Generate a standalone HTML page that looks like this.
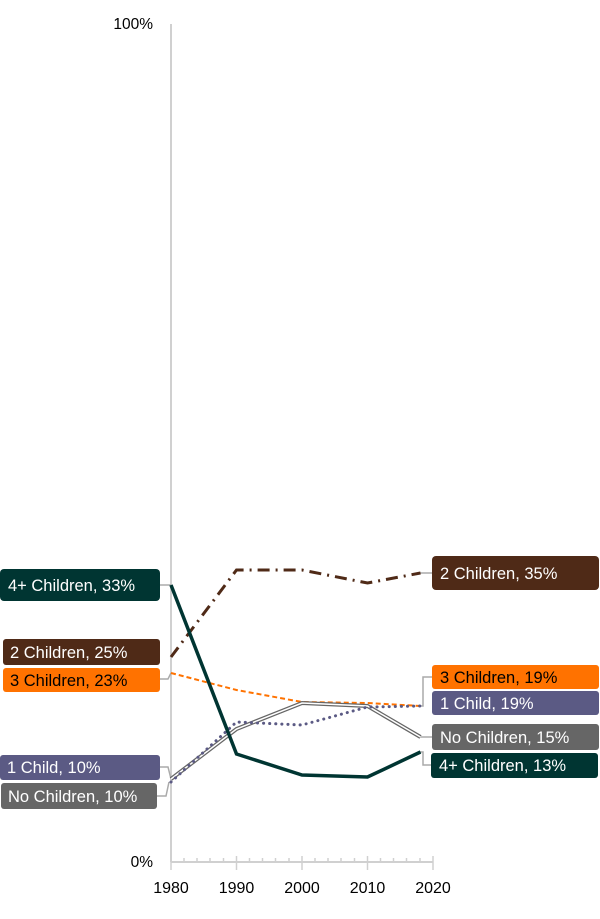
<!DOCTYPE html>
<html><head><meta charset="utf-8"><style>
body{margin:0;background:#fff;}
svg text{font-family:"Liberation Sans",sans-serif;}
</style></head><body>
<svg width="600" height="914" viewBox="0 0 600 914" xmlns="http://www.w3.org/2000/svg">
<rect width="600" height="914" fill="#fff"/>
<line x1="171" y1="24" x2="171" y2="862" stroke="#d0d0d0" stroke-width="2"/>
<line x1="171" y1="862" x2="433" y2="862" stroke="#d0d0d0" stroke-width="2"/>
<g stroke="#d0d0d0" stroke-width="1.5">
<line x1="171" y1="862" x2="171" y2="870"/><line x1="236.5" y1="856" x2="236.5" y2="870"/><line x1="302" y1="856" x2="302" y2="870"/><line x1="367.5" y1="856" x2="367.5" y2="870"/><line x1="433" y1="856" x2="433" y2="870"/>
<line x1="184" y1="858" x2="184" y2="862"/><line x1="197" y1="858" x2="197" y2="862"/><line x1="210" y1="858" x2="210" y2="862"/><line x1="223.5" y1="858" x2="223.5" y2="862"/>
<line x1="249.5" y1="858" x2="249.5" y2="862"/><line x1="262.5" y1="858" x2="262.5" y2="862"/><line x1="275.5" y1="858" x2="275.5" y2="862"/><line x1="289" y1="858" x2="289" y2="862"/>
<line x1="315" y1="858" x2="315" y2="862"/><line x1="328" y1="858" x2="328" y2="862"/><line x1="341" y1="858" x2="341" y2="862"/><line x1="354.5" y1="858" x2="354.5" y2="862"/>
<line x1="380.5" y1="858" x2="380.5" y2="862"/><line x1="393.5" y1="858" x2="393.5" y2="862"/><line x1="406.5" y1="858" x2="406.5" y2="862"/><line x1="420" y1="858" x2="420" y2="862"/>
</g>
<text x="153" y="29" font-size="15.5" text-anchor="end" fill="#000">100%</text>
<text x="153" y="867" font-size="15.5" text-anchor="end" fill="#000">0%</text>
<g font-size="16" text-anchor="middle" fill="#000">
<text x="171" y="893">1980</text><text x="236.5" y="893">1990</text><text x="302" y="893">2000</text><text x="367.5" y="893">2010</text><text x="433" y="893">2020</text>
</g>
<g stroke="#aaa" stroke-width="1.5" fill="none">
<polyline points="160,585 171,585"/>
<polyline points="160,679 168,679 171,673"/>
<polyline points="160,767 168,767 171,779"/>
<polyline points="157,796 166,796 169,782"/>
<polyline points="420,573 432,573"/>
<polyline points="420,706 423,706 423,677 432,677"/>
<polyline points="420,737 432,737"/>
<polyline points="420,752 423,752 423,765 431,765"/>
</g>
<polyline points="171,673 236.5,690 302,702 367.5,703 420.5,706" fill="none" stroke="#ff7200" stroke-width="2" stroke-dasharray="5,3"/>
<polyline points="171,779 236.5,729 302,703 367.5,706 420.5,737" fill="none" stroke="#666" stroke-width="4"/>
<polyline points="171,779 236.5,729 302,703 367.5,706 420.5,737" fill="none" stroke="#fff" stroke-width="1.5"/>
<polyline points="171,782 236.5,722 302,725 367.5,707 420.5,706" fill="none" stroke="#5b5a84" stroke-width="3" stroke-dasharray="0.1,6" stroke-linecap="round"/>
<polyline points="171,657 236.5,570 302,570 367.5,583 420.5,573" fill="none" stroke="#4f2a17" stroke-width="3" stroke-dasharray="12,6,2,6"/>
<polyline points="171,585 236.5,754 302,775 367.5,777 420.5,752" fill="none" stroke="#003532" stroke-width="3.5"/>
<g font-size="16.5" fill="#fff">
<rect x="0" y="569" width="160" height="32" rx="4" fill="#003532"/><text x="8" y="591">4+ Children, 33%</text>
<rect x="3" y="639" width="157" height="26" rx="3" fill="#4f2a17"/><text x="10" y="658">2 Children, 25%</text>
<rect x="3" y="668" width="157" height="24" rx="3" fill="#ff7200"/><text x="10" y="686" fill="#000">3 Children, 23%</text>
<rect x="0" y="755" width="160" height="25" rx="3" fill="#5b5a84"/><text x="7" y="773">1 Child, 10%</text>
<rect x="1" y="783" width="156" height="26" rx="3" fill="#666"/><text x="8" y="802">No Children, 10%</text>
<rect x="432" y="556" width="167" height="34" rx="4" fill="#4f2a17"/><text x="440" y="579">2 Children, 35%</text>
<rect x="432" y="665" width="167" height="24" rx="3" fill="#ff7200"/><text x="440" y="683" fill="#000">3 Children, 19%</text>
<rect x="432" y="691" width="167" height="24" rx="3" fill="#5b5a84"/><text x="440" y="709">1 Child, 19%</text>
<rect x="432" y="724" width="167" height="26" rx="3" fill="#666"/><text x="440" y="743">No Children, 15%</text>
<rect x="431" y="753" width="167" height="25" rx="3" fill="#003532"/><text x="439" y="771">4+ Children, 13%</text>
</g>
</svg>
</body></html>
